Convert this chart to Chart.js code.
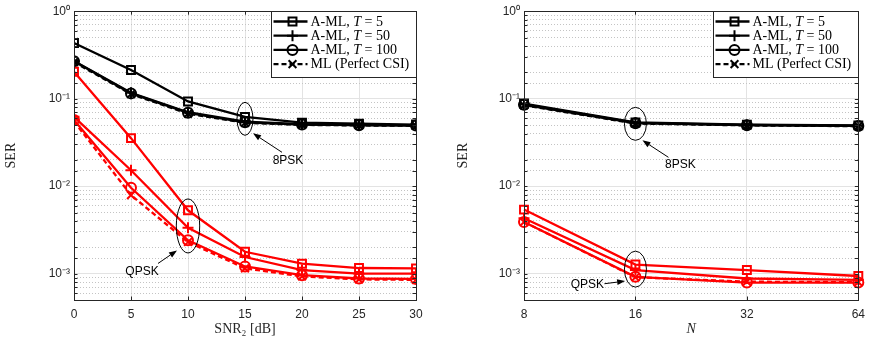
<!DOCTYPE html>
<html><head><meta charset="utf-8">
<script src="https://cdn.jsdelivr.net/npm/chart.js@4.4.1/dist/chart.umd.min.js"></script>
<style>
html,body{margin:0;padding:0;background:#fff;}
#w{position:relative;width:872px;height:339px;overflow:hidden;background:#fff}
canvas{position:absolute;top:0}
</style></head>
<body><div id="w">
<canvas id="cL" width="440" height="339" style="left:0;width:440px;height:339px"></canvas>
<canvas id="cR" width="432" height="339" style="left:440px;width:432px;height:339px"></canvas>
</div>
<script>
// ---------- data ----------
const snr = [0, 5, 10, 15, 20, 25, 30];
const nLabels = ['8', '16', '32', '64'];

const psk8_T5   = [0.434, 0.213, 0.093, 0.0618, 0.0533, 0.0519, 0.0506];
const psk8_T50  = [0.270, 0.117, 0.0700, 0.0545, 0.0510, 0.0500, 0.0496];
const psk8_T100 = [0.268, 0.115, 0.0690, 0.0537, 0.0506, 0.0498, 0.0494];
const psk8_ML   = [0.262, 0.113, 0.0675, 0.0530, 0.0502, 0.0495, 0.0490];

const qpsk_T5   = [0.203, 0.0354, 0.0053, 0.00178, 0.00130, 0.00116, 0.00115];
const qpsk_T50  = [0.062, 0.0152, 0.00334, 0.00155, 0.00110, 0.00100, 0.00100];
const qpsk_T100 = [0.057, 0.0096, 0.00241, 0.00121, 0.00096, 0.00088, 0.00087];
const qpsk_ML   = [0.055, 0.0079, 0.00230, 0.00115, 0.00093, 0.00086, 0.00085];

const nPsk8_T5   = [0.088, 0.0535, 0.0505, 0.0495];
const nPsk8_T50  = [0.086, 0.0530, 0.0500, 0.0490];
const nPsk8_T100 = [0.085, 0.0525, 0.0498, 0.0488];
const nPsk8_ML   = [0.084, 0.0520, 0.0495, 0.0485];

const nQpsk_T5   = [0.0054, 0.00127, 0.00110, 0.00094];
const nQpsk_T50  = [0.0043, 0.00110, 0.00088, 0.00085];
const nQpsk_T100 = [0.0039, 0.00092, 0.00079, 0.00079];
const nQpsk_ML   = [0.0039, 0.00091, 0.00081, 0.00080];

const yMajorTicks  = [1, 0.1, 0.01, 0.001];
const yMajorLabels = ['10⁰', '10⁻¹', '10⁻²', '10⁻³'];
const legendLabels = [['A-ML, ', 'T', ' = 5'], ['A-ML, ', 'T', ' = 50'], ['A-ML, ', 'T', ' = 100'], ['ML (Perfect CSI)']];
const legendKinds = ['T5', 'T50', 'T100', 'ML'];

// ---------- styles ----------
const RED = '#ff0000', BLACK = '#000000';
const kinds = {
  T5:   {pointStyle: 'rect',     radius: 5.6, dash: []},
  T50:  {pointStyle: 'cross',    radius: 5.5, dash: []},
  T100: {pointStyle: 'circle',   radius: 5.0, dash: []},
  ML:   {pointStyle: 'crossRot', radius: 5.5, dash: [5, 3]}
};
function ds(label, data, color, kind) {
  const k = kinds[kind];
  return {
    label, data, borderColor: color, backgroundColor: 'rgba(0,0,0,0)',
    pointBackgroundColor: 'rgba(0,0,0,0)', pointBorderColor: color,
    pointStyle: k.pointStyle, pointRadius: k.radius, pointHoverRadius: k.radius,
    pointBorderWidth: 2, borderWidth: 2.3, borderDash: k.dash, tension: 0, fill: false
  };
}
function isMajor(v) { return yMajorTicks.some(t => Math.abs(v - t) / t < 1e-6); }

// ---------- drawing helpers ----------
function drawMarker(ctx, kind, x, y) {
  const k = kinds[kind], r = k.radius;
  ctx.save(); ctx.setLineDash([]); ctx.lineWidth = 2; ctx.strokeStyle = BLACK;
  ctx.beginPath();
  if (k.pointStyle === 'rect') { const s = r * Math.SQRT1_2; ctx.rect(x - s, y - s, 2 * s, 2 * s); }
  else if (k.pointStyle === 'circle') { ctx.arc(x, y, r, 0, Math.PI * 2); }
  else if (k.pointStyle === 'cross') { ctx.moveTo(x - r, y); ctx.lineTo(x + r, y); ctx.moveTo(x, y - r); ctx.lineTo(x, y + r); }
  else { const o = r * Math.SQRT1_2; ctx.moveTo(x - o, y - o); ctx.lineTo(x + o, y + o); ctx.moveTo(x - o, y + o); ctx.lineTo(x + o, y - o); }
  ctx.stroke(); ctx.restore();
}

const deco = {
  id: 'deco',
  afterDatasetsDraw(chart, args, opts) {
    const ctx = chart.ctx, ca = chart.chartArea;
    const xs = chart.scales.x, ys = chart.scales.y;
    ctx.save();
    // axes box
    ctx.strokeStyle = '#262626'; ctx.lineWidth = 1; ctx.setLineDash([]);
    ctx.strokeRect(Math.round(ca.left) + 0.5, Math.round(ca.top) + 0.5, Math.round(ca.right - ca.left), Math.round(ca.bottom - ca.top));
    // inward ticks
    ctx.beginPath();
    ys.ticks.forEach((t, i) => {
      const p = Math.round(ys.getPixelForTick(i)) + 0.5;
      if (p < ca.top - 1 || p > ca.bottom + 1) return;
      const L = 3.5;
      ctx.moveTo(ca.left, p); ctx.lineTo(ca.left + L, p);
      ctx.moveTo(ca.right, p); ctx.lineTo(ca.right - L, p);
    });
    xs.ticks.forEach((t, i) => {
      const p = Math.round(xs.getPixelForTick(i)) + 0.5;
      ctx.moveTo(p, ca.bottom); ctx.lineTo(p, ca.bottom - 3.5);
      ctx.moveTo(p, ca.top); ctx.lineTo(p, ca.top + 3.5);
    });
    ctx.stroke();
    // annotations
    (opts.annotations || []).forEach(a => {
      const cx = xs.getPixelForValue(a.x), cy = ys.getPixelForValue(a.y);
      ctx.strokeStyle = BLACK; ctx.lineWidth = 1;
      ctx.beginPath(); ctx.ellipse(cx, cy, a.rx, a.ry, 0, 0, Math.PI * 2); ctx.stroke();
      const tx = cx + a.tail[0], ty = cy + a.tail[1], hx = cx + a.head[0], hy = cy + a.head[1];
      const ang = Math.atan2(hy - ty, hx - tx), hl = 8, hw = 3;
      const bx = hx - hl * Math.cos(ang), by = hy - hl * Math.sin(ang);
      ctx.beginPath(); ctx.moveTo(tx, ty); ctx.lineTo(bx, by); ctx.stroke();
      ctx.fillStyle = BLACK; ctx.beginPath();
      ctx.moveTo(hx, hy);
      ctx.lineTo(bx + hw * Math.sin(ang), by - hw * Math.cos(ang));
      ctx.lineTo(bx - hw * Math.sin(ang), by + hw * Math.cos(ang));
      ctx.closePath(); ctx.fill();
      ctx.font = '12px "Liberation Sans", Arial, sans-serif';
      ctx.textAlign = 'center'; ctx.textBaseline = 'middle';
      ctx.fillText(a.label, cx + a.text[0], cy + a.text[1]);
    });
    // legend
    const bw = 145, bh = 66;
    const bx0 = Math.round(ca.right) - bw + 0.5, by0 = Math.round(ca.top) + 0.5;
    ctx.fillStyle = '#fff'; ctx.fillRect(bx0, by0, bw, bh);
    ctx.strokeStyle = '#262626'; ctx.lineWidth = 1; ctx.strokeRect(bx0, by0, bw, bh);
    legendLabels.forEach((parts, i) => {
      const y = by0 + 10 + i * 14.2;
      const kind = legendKinds[i];
      ctx.strokeStyle = BLACK; ctx.lineWidth = 2.3; ctx.setLineDash(kinds[kind].dash);
      ctx.beginPath(); ctx.moveTo(bx0 + 2, y); ctx.lineTo(bx0 + 36, y); ctx.stroke();
      ctx.setLineDash([]);
      drawMarker(ctx, kind, bx0 + 21, y);
      let x = bx0 + 39;
      ctx.fillStyle = BLACK; ctx.textAlign = 'left'; ctx.textBaseline = 'middle';
      parts.forEach((p, j) => {
        ctx.font = (j === 1 ? 'italic ' : '') + '14px "Liberation Serif", "Times New Roman", serif';
        ctx.fillText(p, x, y + 0.5);
        x += ctx.measureText(p).width;
      });
    });
    ctx.restore();
  }
};

const tickFont = {family: '"Liberation Sans", Arial, sans-serif', size: 12};
const titleFont = {family: '"Liberation Serif", "Times New Roman", serif', size: 14};

function yScale(titlePadTop, width) {
  return {
    type: 'logarithmic', min: 0.0005, max: 1,
    afterFit: s => { s.width = width; },
    ticks: {
      autoSkip: false, color: '#262626', font: tickFont, padding: 4,
      callback: v => { const i = yMajorTicks.findIndex(t => Math.abs(v - t) / t < 1e-6); return i >= 0 ? yMajorLabels[i] : ''; }
    },
    grid: {
      drawTicks: false,
      color: c => (c.tick && !isMajor(c.tick.value)) ? '#c4c4c4' : '#e3e3e3',
      lineWidth: 1
    },
    border: { display: false, dash: c => (c.tick && !isMajor(c.tick.value)) ? [1, 2] : [] },
    title: { display: true, text: 'SER', color: '#262626', font: titleFont, padding: {top: titlePadTop, bottom: 0} }
  };
}

function baseOptions(xScaleCfg, yCfg, padRight, annotations) {
  return {
    responsive: false, animation: false, devicePixelRatio: 1,
    layout: { padding: {top: 11, right: padRight, left: 0, bottom: 0} },
    plugins: { legend: {display: false}, tooltip: {enabled: false}, deco: {annotations} },
    scales: { x: xScaleCfg, y: yCfg },
    elements: { line: {borderJoinStyle: 'miter'} }
  };
}

// ---------- left chart ----------
new Chart(document.getElementById('cL'), {
  type: 'line',
  data: {
    labels: snr,
    datasets: [
      ds('QPSK A-ML T=5', qpsk_T5, RED, 'T5'),
      ds('QPSK A-ML T=50', qpsk_T50, RED, 'T50'),
      ds('QPSK A-ML T=100', qpsk_T100, RED, 'T100'),
      ds('QPSK ML', qpsk_ML, RED, 'ML'),
      ds('8PSK A-ML T=5', psk8_T5, BLACK, 'T5'),
      ds('8PSK A-ML T=50', psk8_T50, BLACK, 'T50'),
      ds('8PSK A-ML T=100', psk8_T100, BLACK, 'T100'),
      ds('8PSK ML', psk8_ML, BLACK, 'ML')
    ].map(d => ({...d, data: d.data.map((v, i) => ({x: snr[i], y: v}))}))
  },
  options: baseOptions({
    type: 'linear', min: 0, max: 30,
    afterFit: s => { s.height = 39; },
    ticks: {stepSize: 5, color: '#262626', font: tickFont, padding: 7},
    grid: {drawTicks: false, color: '#e3e3e3'},
    border: {display: false},
    title: {display: true, text: 'SNR₂ [dB]', color: '#262626', font: titleFont, padding: {top: 0, bottom: 1}}
  }, yScale(2.6, 74), 24, [
    {x: 15, y: 0.0589, rx: 8, ry: 16.5, tail: [37, 33.5], head: [8, 14.5], text: [43, 41.5], label: '8PSK'},
    {x: 10, y: 0.00351, rx: 11.7, ry: 27, tail: [-30, 37.5], head: [-11, 24.5], text: [-46, 45.5], label: 'QPSK'}
  ]),
  plugins: [deco]
});

// ---------- right chart ----------
new Chart(document.getElementById('cR'), {
  type: 'line',
  data: {
    labels: nLabels,
    datasets: [
      ds('QPSK A-ML T=5', nQpsk_T5, RED, 'T5'),
      ds('QPSK A-ML T=50', nQpsk_T50, RED, 'T50'),
      ds('QPSK A-ML T=100', nQpsk_T100, RED, 'T100'),
      ds('QPSK ML', nQpsk_ML, RED, 'ML'),
      ds('8PSK A-ML T=5', nPsk8_T5, BLACK, 'T5'),
      ds('8PSK A-ML T=50', nPsk8_T50, BLACK, 'T50'),
      ds('8PSK A-ML T=100', nPsk8_T100, BLACK, 'T100'),
      ds('8PSK ML', nPsk8_ML, BLACK, 'ML')
    ]
  },
  options: baseOptions({
    type: 'category', offset: false,
    afterFit: s => { s.height = 39; },
    ticks: {color: '#262626', font: tickFont, padding: 7, autoSkip: false},
    grid: {drawTicks: false, color: '#e3e3e3', offset: false},
    border: {display: false},
    title: {display: true, text: 'N', color: '#262626', font: {...titleFont, style: 'italic'}, padding: {top: 0, bottom: 1}}
  }, yScale(14.6, 84), 8, [
    {x: 1, y: 0.0516, rx: 11, ry: 16.5, tail: [33, 33.5], head: [7, 16.5], text: [45, 40.5], label: '8PSK'},
    {x: 1, y: 0.001127, rx: 11, ry: 18, tail: [-31, 14.6], head: [-10.3, 12], text: [-48, 15.3], label: 'QPSK'}
  ]),
  plugins: [deco]
});
</script>
</body></html>
